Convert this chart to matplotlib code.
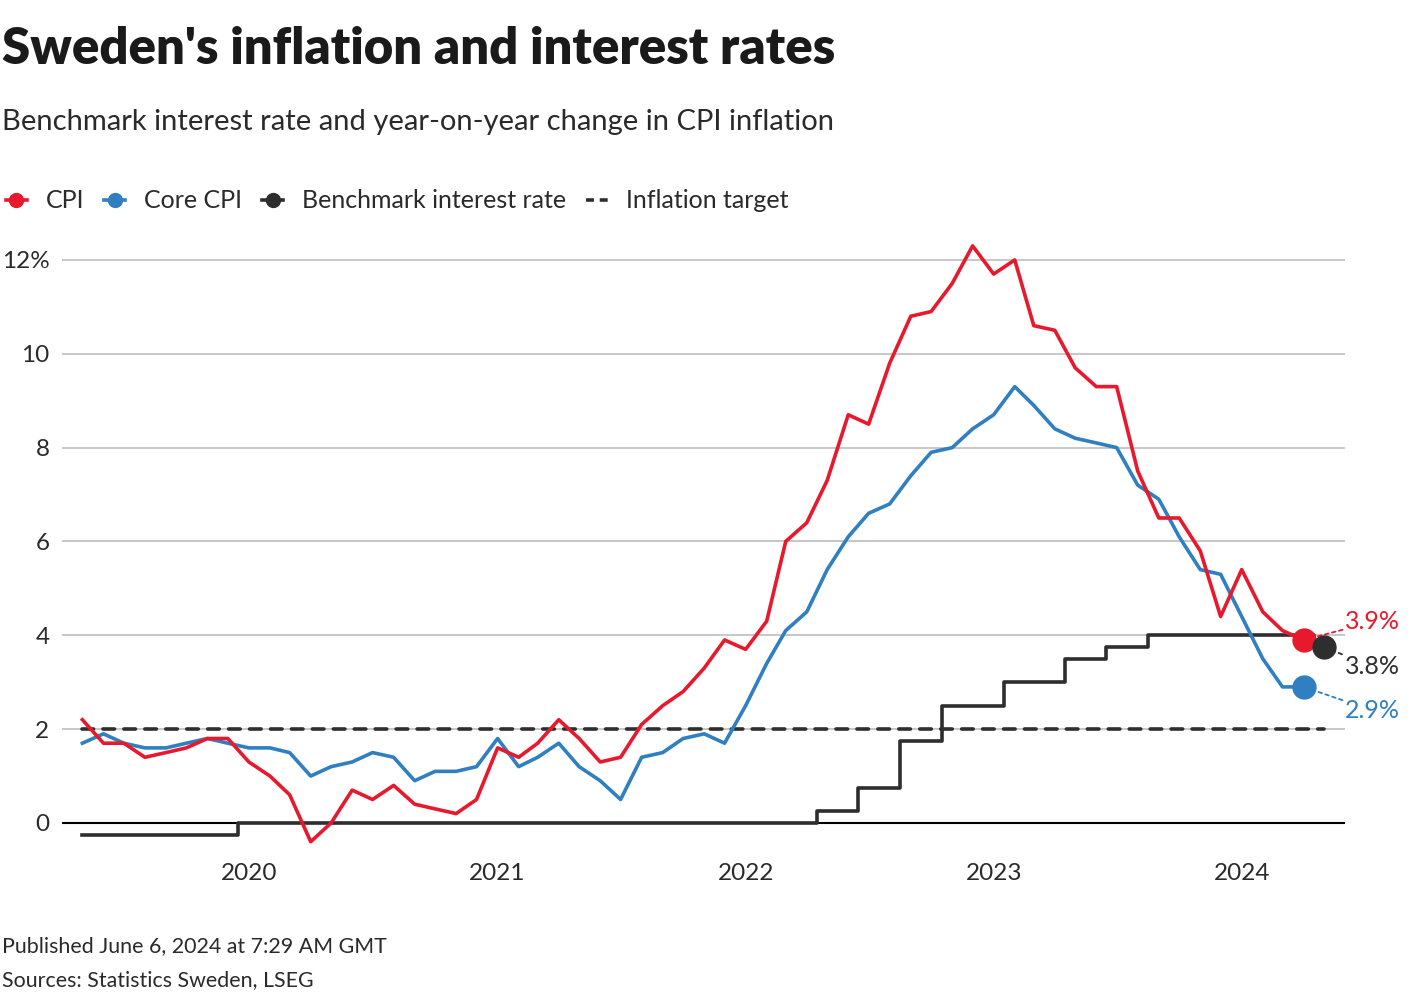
import numpy as np
import pandas as pd
import matplotlib
matplotlib.use("Agg")
from matplotlib import pyplot as plt
from matplotlib.lines import Line2D
from matplotlib.legend_handler import HandlerLine2D

# ---- data ----
months = pd.date_range("2019-05-01", "2024-04-01", freq="MS")
rate_months = pd.date_range("2019-05-01", "2024-05-01", freq="MS")

cpi = [2.2, 1.7, 1.7, 1.4, 1.5, 1.6, 1.8, 1.8,
       1.3, 1.0, 0.6, -0.4, 0.0, 0.7, 0.5, 0.8, 0.4, 0.3, 0.2, 0.5,
       1.6, 1.4, 1.7, 2.2, 1.8, 1.3, 1.4, 2.1, 2.5, 2.8, 3.3, 3.9,
       3.7, 4.3, 6.0, 6.4, 7.3, 8.7, 8.5, 9.8, 10.8, 10.9, 11.5, 12.3,
       11.7, 12.0, 10.6, 10.5, 9.7, 9.3, 9.3, 7.5, 6.5, 6.5, 5.8, 4.4,
       5.4, 4.5, 4.1, 3.9]
core_cpi = [1.7, 1.9, 1.7, 1.6, 1.6, 1.7, 1.8, 1.7,
            1.6, 1.6, 1.5, 1.0, 1.2, 1.3, 1.5, 1.4, 0.9, 1.1, 1.1, 1.2,
            1.8, 1.2, 1.4, 1.7, 1.2, 0.9, 0.5, 1.4, 1.5, 1.8, 1.9, 1.7,
            2.5, 3.4, 4.1, 4.5, 5.4, 6.1, 6.6, 6.8, 7.4, 7.9, 8.0, 8.4,
            8.7, 9.3, 8.9, 8.4, 8.2, 8.1, 8.0, 7.2, 6.9, 6.1, 5.4, 5.3,
            4.4, 3.5, 2.9, 2.9]
rate = ([-0.25] * 8 + [0.0] * 28 + [0.25] * 2 + [0.75] * 2 + [1.75] * 2
        + [2.5] * 3 + [3.0] * 3 + [3.5] * 2 + [3.75] * 2 + [4.0] * 8 + [3.75])
target = 2.0

year_ticks = pd.to_datetime(["2020-01-01", "2021-01-01", "2022-01-01",
                             "2023-01-01", "2024-01-01"])
year_labels = ["2020", "2021", "2022", "2023", "2024"]
y_ticks = [0, 2, 4, 6, 8, 10, 12]
y_labels = ["0", "2", "4", "6", "8", "10", "12%"]

RED = "#e8192c"
BLUE = "#2f7fc1"
DARK = "#2e2e2e"
GRID = "#bdbdbd"
TXT = "#2a2a2a"

plt.rcParams["font.family"] = ["Lato", "DejaVu Sans"]


class EndDot(HandlerLine2D):
    """legend handle: short line with the dot at its right end"""

    def get_xdata(self, legend, xdescent, ydescent, width, height, fontsize):
        xdata = np.array([-xdescent, -xdescent + width])
        return xdata, np.array([-xdescent + width])


fig = plt.figure(figsize=(14.2, 10), dpi=100)
ax = fig.add_axes([62 / 1420, 1 - 855.8 / 1000, (1345 - 62) / 1420, (855.8 - 231.8) / 1000])

ax.set_xlim(pd.Timestamp("2019-04-01"), pd.Timestamp("2024-06-01"))
ax.set_ylim(-0.7, 12.6)

ax.axhline(0, color="black", lw=1.5, zorder=2)
for yv in y_ticks[1:]:
    ax.axhline(yv, color=GRID, lw=1.2, zorder=1)

ax.plot([months[0], rate_months[-1]], [target, target], color=DARK, lw=2.6,
        ls=(0, (3.2, 2.6)), dash_capstyle="round", zorder=3)
ax.plot(rate_months, rate, color=DARK, lw=2.6, drawstyle="steps-mid", zorder=4)
ax.plot(months, core_cpi, color=BLUE, lw=2.6, zorder=5)
ax.plot(months, cpi, color=RED, lw=2.6, zorder=6)

# end dots and labels
ends = [(months[-1], cpi[-1], RED, (30, 13)),
        (rate_months[-1], rate[-1], DARK, (15, -14)),
        (months[-1], core_cpi[-1], BLUE, (30, -17))]
for xe, ye, col, off in ends:
    ax.plot([xe], [ye], "o", color=col, ms=16.5, zorder=7, clip_on=False)
    ax.annotate("%.1f%%" % ye, xy=(xe, ye), xytext=off, textcoords="offset points",
                color=col, fontsize=18, ha="left", va="center",
                arrowprops=dict(arrowstyle="-", color=col, lw=1.3, ls=(0, (2, 2)),
                                shrinkA=0, shrinkB=2), annotation_clip=False)

ax.set_xticks(year_ticks)
ax.set_xticklabels(year_labels)
ax.set_yticks(y_ticks)
ax.set_yticklabels(y_labels)
ax.tick_params(axis="both", length=0, labelsize=17.5, labelcolor=TXT)
ax.tick_params(axis="x", pad=5)
ax.tick_params(axis="y", pad=9)
for s in ax.spines.values():
    s.set_visible(False)

# titles
fig.text(0.0015, 0.951, "Sweden's inflation and interest rates", fontsize=36.6,
         fontweight="heavy", color="#1a1a1a", va="center", ha="left")
fig.text(0.0015, 0.878, "Benchmark interest rate and year-on-year change in CPI inflation",
         fontsize=21, color=TXT, va="center", ha="left")

handles = [Line2D([], [], color=RED, lw=2.6, marker="o", ms=10),
           Line2D([], [], color=BLUE, lw=2.6, marker="o", ms=10),
           Line2D([], [], color=DARK, lw=2.6, marker="o", ms=10),
           Line2D([], [], color=DARK, lw=2.6, ls=(0, (2.2, 1.6)))]
leg = fig.legend(handles, ["CPI", "Core CPI", "Benchmark interest rate", "Inflation target"],
                 handler_map={h: EndDot() for h in handles[:3]},
                 loc="center left", bbox_to_anchor=(-0.003, 0.799), ncol=4, frameon=False,
                 fontsize=18, handlelength=0.85, handletextpad=0.75, columnspacing=0.8,
                 borderaxespad=0)
for t in leg.get_texts():
    t.set_color(TXT)

fig.text(0.0015, 0.054, "Published June 6, 2024 at 7:29 AM GMT", fontsize=15.4,
         color=TXT, va="center", ha="left")
fig.text(0.0015, 0.020, "Sources: Statistics Sweden, LSEG", fontsize=15.4,
         color=TXT, va="center", ha="left")

fig.savefig("out.png", dpi=100, facecolor="white")
